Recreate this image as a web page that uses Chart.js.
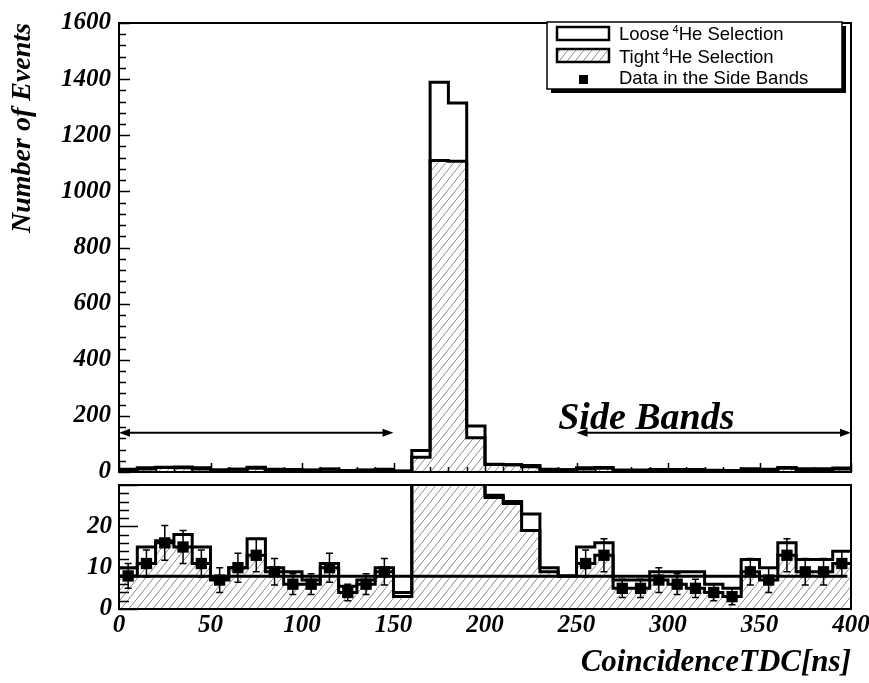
<!DOCTYPE html>
<html>
<head>
<meta charset="utf-8">
<script src="https://cdn.jsdelivr.net/npm/chart.js@4.4.0/dist/chart.umd.min.js"></script>
<style>
  body { margin: 0; background: #fff; }
  #wrap { position: relative; width: 869px; height: 683px; }
  canvas { position: absolute; left: 0; top: 0; }
</style>
</head>
<body>
<div id="wrap">
  <canvas id="topPanel" width="869" height="683"></canvas>
  <canvas id="bottomPanel" width="869" height="683"></canvas>
</div>
<script>
// histogram bins (low edge, ns), 10 ns wide
const binWidth = 10;
const binLow = [0, 10, 20, 30, 40, 50, 60, 70, 80, 90,
  100, 110, 120, 130, 140, 150, 160, 170, 180, 190,
  200, 210, 220, 230, 240, 250, 260, 270, 280, 290,
  300, 310, 320, 330, 340, 350, 360, 370, 380, 390];

const looseCounts = [10, 15, 16.5, 18, 15, 7.5, 10, 17, 10, 9,
  7, 11, 5.5, 7, 10, 4, 77, 1389, 1315, 164,
  27.5, 26, 23, 10, 8, 15, 16, 7, 7, 9,
  9, 9, 6, 5, 12, 10, 16, 12, 12, 14];

const tightCounts = [8, 11, 16, 15, 11, 7, 10, 13, 9, 6,
  6, 10, 4, 6, 9, 3, 53, 1110, 1107, 122,
  27, 25.5, 19, 9, 8, 11, 13, 5, 5, 7,
  6, 5, 4, 3, 9, 7, 13, 9, 9, 11];

// side band points (bin centres) with error bars
const sideCenters = [5, 15, 25, 35, 45, 55, 65, 75, 85, 95, 105, 115, 125, 135, 145,
  255, 265, 275, 285, 295, 305, 315, 325, 335, 345, 355, 365, 375, 385, 395];
const sideCounts = [8, 11, 16, 15, 11, 7, 10, 13, 9, 6, 6, 10, 4, 6, 9,
  11, 13, 5, 5, 7, 6, 5, 4, 3, 9, 7, 13, 9, 9, 11];
const sideErrors = [3, 3.3, 4.2, 4, 3.3, 3, 3.5, 4, 3.2, 2.5, 2.5, 3.5, 2, 2.5, 3.2,
  3.3, 4, 2.2, 2.2, 3, 2.5, 2.2, 2, 2, 3.2, 3, 4, 3.2, 3.2, 3];

const fitLevel = 7.9;
const fitRange = [0, 398];
const sideBands = [[0, 150], [250, 400]];

const xTicks = [0, 50, 100, 150, 200, 250, 300, 350, 400];
const yTopTicks = [0, 200, 400, 600, 800, 1000, 1200, 1400, 1600];
const yBottomTicks = [0, 10, 20];

const looseLabel = 'Loose \u2074He Selection';
const tightLabel = 'Tight \u2074He Selection';
const dataLabel = 'Data in the Side Bands';

const serif = '"Liberation Serif", "Times New Roman", serif';
const tickFont = { family: serif, style: 'italic', weight: 'bold', size: 25 };

function histPoints(counts) {
  const pts = binLow.map((x, i) => ({ x: x, y: counts[i] }));
  pts.push({ x: binLow[binLow.length - 1] + binWidth, y: counts[counts.length - 1] });
  return pts;
}

function makeHatch() {
  const c = document.createElement('canvas');
  c.width = 8; c.height = 10;
  const g = c.getContext('2d');
  g.strokeStyle = '#8a8a8a';
  g.lineWidth = 1;
  g.beginPath();
  g.moveTo(-8, 20); g.lineTo(16, -10);
  g.stroke();
  return g.createPattern(c, 'repeat');
}
const hatch = makeHatch();

// ROOT style frame with ticks pointing inside
const framePlugin = {
  id: 'frame',
  afterDatasetsDraw(chart, args, opts) {
    const { ctx, chartArea: a, scales } = chart;
    ctx.save();
    ctx.strokeStyle = '#000';
    ctx.lineWidth = 1.5;
    ctx.beginPath();
    if (opts.xStep) {
      for (let v = scales.x.min; v <= scales.x.max; v += opts.xStep) {
        const px = Math.round(scales.x.getPixelForValue(v)) + 0.5;
        const len = v % opts.xMajor === 0 ? opts.xLen[0] : opts.xLen[1];
        ctx.moveTo(px, a.bottom); ctx.lineTo(px, a.bottom - len);
      }
    }
    if (opts.yStep) {
      for (let v = scales.y.min; v <= scales.y.max; v += opts.yStep) {
        const py = Math.round(scales.y.getPixelForValue(v)) + 0.5;
        const len = v % opts.yMajor === 0 ? opts.yLen[0] : opts.yLen[1];
        ctx.moveTo(a.left, py); ctx.lineTo(a.left + len, py);
      }
    }
    ctx.stroke();
    ctx.lineWidth = 2;
    ctx.strokeRect(a.left, a.top, a.right - a.left, a.bottom - a.top);
    ctx.restore();
  }
};

function arrowHead(ctx, x, y, dir) {
  ctx.beginPath();
  ctx.moveTo(x, y);
  ctx.lineTo(x - dir * 11, y - 4);
  ctx.lineTo(x - dir * 11, y + 4);
  ctx.closePath();
  ctx.fill();
}

const bandsPlugin = {
  id: 'bands',
  afterDatasetsDraw(chart) {
    const { ctx, scales: { x, y } } = chart;
    ctx.save();
    ctx.strokeStyle = '#000';
    ctx.fillStyle = '#000';
    ctx.lineWidth = 2;
    const py = y.getPixelForValue(140);
    sideBands.forEach(([lo, hi]) => {
      const x1 = x.getPixelForValue(lo), x2 = x.getPixelForValue(hi);
      ctx.beginPath();
      ctx.moveTo(x1 + 4, py); ctx.lineTo(x2 - 4, py);
      ctx.stroke();
      arrowHead(ctx, x1, py, -1);
      arrowHead(ctx, x2, py, 1);
    });
    ctx.font = 'italic bold 38px ' + serif;
    ctx.textBaseline = 'alphabetic';
    ctx.fillText('Side Bands', x.getPixelForValue(240), y.getPixelForValue(155));
    ctx.restore();
  }
};

function drawLabel(ctx, text, x, y) {
  const parts = text.split('\u2074');
  ctx.font = '18.5px "Liberation Sans", Arial, sans-serif';
  ctx.fillText(parts[0], x, y);
  if (parts.length > 1) {
    x += ctx.measureText(parts[0]).width - 2;
    ctx.font = '11px "Liberation Sans", Arial, sans-serif';
    ctx.fillText('4', x, y - 7);
    x += ctx.measureText('4').width;
    ctx.font = '18.5px "Liberation Sans", Arial, sans-serif';
    ctx.fillText(parts[1], x, y);
  }
}

const legendPlugin = {
  id: 'rootLegend',
  afterDraw(chart) {
    const ctx = chart.ctx;
    const L = 547, T = 22, W = 295, H = 67;
    ctx.save();
    ctx.fillStyle = '#000';
    ctx.fillRect(L + 4, T + 4, W, H);
    ctx.fillStyle = '#fff';
    ctx.fillRect(L, T, W, H);
    ctx.strokeStyle = '#000';
    ctx.lineWidth = 1.5;
    ctx.strokeRect(L, T, W, H);
    // symbols
    ctx.lineWidth = 2.5;
    ctx.strokeRect(557, 27, 52, 13);
    ctx.fillStyle = hatch;
    ctx.fillRect(557, 49, 52, 13);
    ctx.strokeRect(557, 49, 52, 13);
    ctx.fillStyle = '#000';
    ctx.fillRect(579, 75, 9, 9);
    // texts
    ctx.textBaseline = 'alphabetic';
    drawLabel(ctx, chart.data.datasets[0].label, 619, 39.5);
    drawLabel(ctx, chart.data.datasets[1].label, 619, 63);
    drawLabel(ctx, dataLabel, 619, 83.5);
    ctx.restore();
  }
};

const errorBarPlugin = {
  id: 'errorBars',
  afterDatasetsDraw(chart) {
    const { ctx, scales: { x, y } } = chart;
    ctx.save();
    ctx.strokeStyle = '#000';
    ctx.lineWidth = 1.5;
    ctx.beginPath();
    sideCenters.forEach((c, i) => {
      const px = x.getPixelForValue(c);
      const yHi = y.getPixelForValue(sideCounts[i] + sideErrors[i]);
      const yLo = y.getPixelForValue(sideCounts[i] - sideErrors[i]);
      ctx.moveTo(px, yHi); ctx.lineTo(px, yLo);
      ctx.moveTo(px - 3.5, yHi); ctx.lineTo(px + 3.5, yHi);
      ctx.moveTo(px - 3.5, yLo); ctx.lineTo(px + 3.5, yLo);
    });
    ctx.stroke();
    ctx.restore();
  }
};

function histSet(label, counts, filled, order) {
  return {
    label: label,
    data: histPoints(counts),
    stepped: 'before',
    borderColor: '#000',
    borderWidth: 3,
    borderJoinStyle: 'miter',
    pointRadius: 0,
    backgroundColor: filled ? hatch : 'transparent',
    fill: filled ? 'origin' : false,
    order: order
  };
}

const fixedWidth = w => s => { s.width = w; };
const fixedHeight = h => s => { s.height = h; s.paddingLeft = 0; s.paddingRight = 0; };
const setTicks = arr => s => { s.ticks = arr.map(v => ({ value: v })); };
const plainLabel = v => String(v);

// upper panel
new Chart(document.getElementById('topPanel'), {
  type: 'line',
  data: {
    datasets: [
      histSet(looseLabel, looseCounts, false, 2),
      histSet(tightLabel, tightCounts, true, 1)
    ]
  },
  options: {
    responsive: false,
    animation: false,
    layout: { padding: { top: 14, right: 18, bottom: 211, left: 0 } },
    scales: {
      x: { type: 'linear', min: 0, max: 400, display: false },
      y: {
        min: 0, max: 1600,
        afterFit: fixedWidth(119),
        afterBuildTicks: setTicks(yTopTicks),
        grid: { display: false, drawTicks: false },
        border: { display: false },
        ticks: { font: tickFont, color: '#000', padding: 8, callback: plainLabel },
        title: {
          display: true, text: 'Number of Events', align: 'end', color: '#000',
          font: { family: serif, style: 'italic', weight: 'bold', size: 28 },
          padding: { top: 6, bottom: 0 }
        }
      }
    },
    plugins: {
      legend: { display: false },
      tooltip: { enabled: false },
      frame: { xStep: 10, xMajor: 50, xLen: [9, 5], yStep: 40, yMajor: 200, yLen: [11, 7] }
    }
  },
  plugins: [framePlugin, bandsPlugin, legendPlugin]
});

// lower panel (zoom on the side bands)
new Chart(document.getElementById('bottomPanel'), {
  type: 'line',
  data: {
    datasets: [
      histSet(looseLabel, looseCounts, false, 3),
      histSet(tightLabel, tightCounts, true, 2),
      {
        label: 'fit',
        data: [{ x: fitRange[0], y: fitLevel }, { x: fitRange[1], y: fitLevel }],
        borderColor: '#000', borderWidth: 3, pointRadius: 0, fill: false, order: 1
      },
      {
        label: dataLabel,
        data: sideCenters.map((c, i) => ({ x: c, y: sideCounts[i] })),
        showLine: false,
        pointStyle: 'rect',
        pointRadius: 8,
        pointBackgroundColor: '#000',
        pointBorderWidth: 0,
        order: 0
      }
    ]
  },
  options: {
    responsive: false,
    animation: false,
    layout: { padding: { top: 485, right: 18, bottom: 0, left: 0 } },
    scales: {
      x: {
        type: 'linear', min: 0, max: 400,
        afterFit: fixedHeight(74),
        afterBuildTicks: setTicks(xTicks),
        grid: { display: false, drawTicks: false },
        border: { display: false },
        ticks: { font: tickFont, color: '#000', padding: 2, autoSkip: false, maxRotation: 0, callback: plainLabel },
        title: {
          display: true, text: 'CoincidenceTDC[ns]', align: 'end', color: '#000',
          font: { family: serif, style: 'italic', weight: 'bold', size: 31 },
          padding: { top: 0, bottom: 1 }
        }
      },
      y: {
        min: 0, max: 30,
        afterFit: fixedWidth(119),
        afterBuildTicks: setTicks(yBottomTicks),
        grid: { display: false, drawTicks: false },
        border: { display: false },
        ticks: { font: tickFont, color: '#000', padding: 7, callback: plainLabel }
      }
    },
    plugins: {
      legend: { display: false },
      tooltip: { enabled: false },
      frame: { xStep: 0, yStep: 2, yMajor: 10, yLen: [19, 10] }
    }
  },
  plugins: [framePlugin, errorBarPlugin]
});
</script>
</body>
</html>
